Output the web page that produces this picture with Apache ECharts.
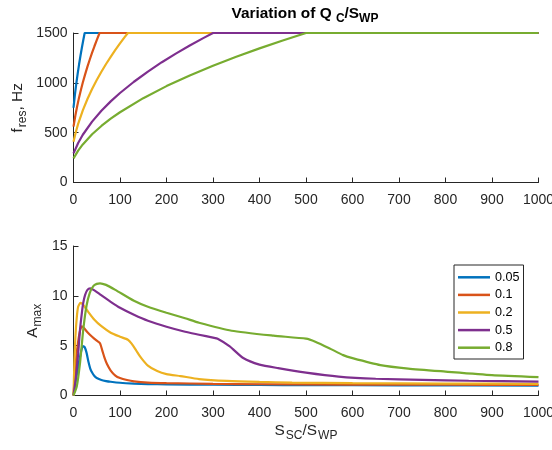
<!DOCTYPE html>
<html>
<head>
<meta charset="utf-8">
<script src="https://cdn.jsdelivr.net/npm/echarts@6/dist/echarts.min.js"></script>
<style>
html,body{margin:0;padding:0;background:#fff;}
#chart{width:552px;height:450px;}
</style>
</head>
<body>
<div id="chart"></div>
<script>
// ---- Data ----
var seriesNames = ['0.05', '0.1', '0.2', '0.5', '0.8'];
var colors = ['#0072BD', '#D95319', '#EDB120', '#7E2F8E', '#77AC30'];

// Top plot: f_res (Hz) vs S_SC/S_WP
var fX_005 = [0, 3, 6, 9, 12, 15, 18, 21, 24, 1000];
var fY_005 = [750, 879, 992, 1093, 1186, 1272, 1352, 1428, 1500, 1500];
var fX_01 = [0, 4, 8, 12, 16, 20, 25, 30, 35, 40, 45, 50, 56, 1000];
var fY_01 = [560, 672, 768, 854, 931, 1003, 1085, 1162, 1234, 1303, 1367, 1429, 1500, 1500];
var fX_02 = [0, 5, 10, 20, 30, 40, 50, 60, 70, 80, 90, 100, 110, 117, 1000];
var fY_02 = [410, 507, 588, 724, 838, 938, 1028, 1111, 1189, 1261, 1330, 1395, 1458, 1500, 1500];
var fX_05 = [0, 10, 20, 40, 60, 80, 100, 130, 160, 190, 220, 250, 280, 300, 1000];
var fY_05 = [292, 397, 479, 611, 720, 814, 898, 1011, 1113, 1207, 1293, 1374, 1451, 1500, 1500];
var fX_08 = [0, 10, 20, 40, 60, 80, 100, 150, 200, 250, 300, 350, 400, 450, 500, 1000];
var fY_08 = [242, 320, 382, 484, 567, 640, 705, 846, 967, 1074, 1172, 1262, 1346, 1425, 1500, 1500];

// Bottom plot: A_max vs S_SC/S_WP
var aX_005 = [0, 5, 10, 15, 20, 24, 28, 32, 36, 40, 45, 50, 60, 70, 80, 100, 130, 160, 200, 300, 400, 500, 700, 1000];
var aY_005 = [0, 1.5, 2.9, 4.1, 4.95, 4.85, 4.3, 3.4, 2.7, 2.3, 1.95, 1.75, 1.55, 1.45, 1.38, 1.28, 1.2, 1.15, 1.12, 1.08, 1.06, 1.04, 1.02, 1.0];
var aX_01 = [0, 3, 6, 10, 14, 18, 22, 30, 40, 50, 57, 62, 67, 72, 80, 90, 100, 115, 130, 160, 200, 300, 400, 600, 800, 1000];
var aY_01 = [0, 2.0, 3.8, 5.4, 6.5, 6.95, 6.8, 6.35, 5.9, 5.5, 5.25, 4.5, 3.75, 3.15, 2.5, 2.0, 1.75, 1.55, 1.42, 1.3, 1.24, 1.17, 1.13, 1.1, 1.08, 1.07];
var aX_02 = [0, 2, 4, 7, 10, 15, 20, 30, 45, 60, 80, 100, 117, 125, 135, 145, 160, 180, 200, 230, 270, 330, 400, 470, 600, 800, 1000];
var aY_02 = [0, 3.5, 5.8, 7.8, 8.9, 9.3, 9.15, 8.5, 7.6, 6.95, 6.3, 5.9, 5.6, 5.2, 4.5, 3.8, 3.0, 2.45, 2.15, 1.95, 1.65, 1.46, 1.36, 1.3, 1.24, 1.2, 1.17];
var aX_05 = [0, 5, 10, 14, 18, 21, 25, 30, 36, 45, 57, 80, 100, 130, 160, 200, 240, 270, 300, 310, 336, 365, 400, 440, 500, 570, 650, 750, 850, 1000];
var aY_05 = [0, 1.8, 4.2, 6.6, 8.3, 9.3, 10.1, 10.6, 10.75, 10.55, 10.15, 9.4, 8.8, 8.1, 7.5, 6.9, 6.4, 6.1, 5.8, 5.7, 4.93, 3.76, 3.1, 2.75, 2.3, 1.9, 1.68, 1.57, 1.48, 1.4];
var aX_08 = [0, 7, 14, 21, 28, 35, 43, 50, 57, 70, 90, 130, 160, 200, 240, 270, 340, 430, 500, 520, 550, 580, 600, 660, 720, 800, 900, 1000];
var aY_08 = [0, 0.9, 3.25, 6.6, 9.0, 10.3, 11.0, 11.2, 11.26, 11.1, 10.6, 9.5, 8.9, 8.3, 7.75, 7.3, 6.5, 6.0, 5.7, 5.4, 4.75, 4.05, 3.75, 3.05, 2.7, 2.4, 2.05, 1.85];

var xTicks = [0, 100, 200, 300, 400, 500, 600, 700, 800, 900, 1000];
var fTicks = [0, 500, 1000, 1500];
var aTicks = [0, 5, 10, 15];

// ---- Build chart ----
function pairs(xs, ys) { return xs.map(function (x, i) { return [x, ys[i]]; }); }
var topX = [fX_005, fX_01, fX_02, fX_05, fX_08];
var topY = [fY_005, fY_01, fY_02, fY_05, fY_08];
var botX = [aX_005, aX_01, aX_02, aX_05, aX_08];
var botY = [aY_005, aY_01, aY_02, aY_05, aY_08];

var TXT = '#262626';
var FONT = 'Liberation Sans, Arial, Helvetica, sans-serif';
function plain(v) { return String(v); }

function xAxisCfg(gi, withName) {
  var c = {
    type: 'value', gridIndex: gi, min: xTicks[0], max: xTicks[xTicks.length - 1],
    interval: xTicks[1] - xTicks[0],
    axisLine: { lineStyle: { color: TXT, width: 1 } },
    axisTick: { inside: true, length: 5, lineStyle: { color: TXT } },
    axisLabel: { color: TXT, fontSize: 14, fontFamily: FONT, margin: 11, showMaxLabel: true, formatter: plain, hideOverlap: false },
    splitLine: { show: false }
  };
  if (withName) {
    c.name = '{m|S}{s|SC}{m|/S}{s|WP}';
    c.nameLocation = 'middle';
    c.nameGap = 24;
    c.nameTextStyle = {
      color: TXT, fontFamily: FONT,
      rich: {
        m: { fontSize: 15.4, color: TXT, fontFamily: FONT },
        s: { fontSize: 12, color: TXT, fontFamily: FONT, padding: [10, 0, 0, 1] }
      }
    };
  }
  return c;
}
function yAxisCfg(gi, ticks, nameMain, nameSub, nameTail, gap) {
  return {
    type: 'value', gridIndex: gi, min: ticks[0], max: ticks[ticks.length - 1],
    interval: ticks[1] - ticks[0],
    axisLine: { show: true, lineStyle: { color: TXT, width: 1 } },
    axisTick: { show: true, inside: true, length: 5, lineStyle: { color: TXT } },
    axisLabel: { color: TXT, fontSize: 14, fontFamily: FONT, margin: 6, formatter: plain },
    splitLine: { show: false },
    name: '{m|' + nameMain + '}{s|' + nameSub + '}' + (nameTail ? '{m|' + nameTail + '}' : ''),
    nameLocation: 'middle',
    nameGap: gap,
    nameMoveOverlap: false,
    nameTextStyle: {
      color: TXT, fontFamily: FONT,
      rich: {
        m: { fontSize: 15.4, color: TXT, fontFamily: FONT },
        s: { fontSize: 12, color: TXT, fontFamily: FONT, padding: [10, 0, 0, 1] }
      }
    }
  };
}

var series = [];
for (var i = 0; i < 5; i++) {
  series.push({
    name: seriesNames[i], type: 'line', xAxisIndex: 0, yAxisIndex: 0,
    data: pairs(topX[i], topY[i]), showSymbol: false, symbol: 'none',
    lineStyle: { color: colors[i], width: 2.2 }, itemStyle: { color: colors[i] },
    animation: false, silent: true
  });
}
for (var j = 0; j < 5; j++) {
  series.push({
    name: seriesNames[j], type: 'line', xAxisIndex: 1, yAxisIndex: 1,
    data: pairs(botX[j], botY[j]), showSymbol: false, symbol: 'none',
    smooth: 0.2,
    lineStyle: { color: colors[j], width: 2.2 }, itemStyle: { color: colors[j] },
    animation: false, silent: true
  });
}

var chart = echarts.init(document.getElementById('chart'), null, { renderer: 'canvas' });
chart.setOption({
  backgroundColor: '#ffffff',
  animation: false,
  textStyle: { fontFamily: FONT },
  grid: [
    { left: 73.5, right: 13.5, top: 33, height: 149.5, containLabel: false, outerBoundsMode: 'none' },
    { left: 73.5, right: 13.5, top: 246, height: 149.5, containLabel: false, outerBoundsMode: 'none' }
  ],
  xAxis: [xAxisCfg(0, false), xAxisCfg(1, true)],
  yAxis: [
    yAxisCfg(0, fTicks, 'f', 'res', ', Hz', 45),
    yAxisCfg(1, aTicks, 'A', 'max', '', 30)
  ],
  legend: {
    data: seriesNames,
    orient: 'vertical',
    left: 454, top: 265,
    icon: 'rect',
    itemWidth: 32, itemHeight: 2.5, itemGap: 0,
    padding: [3.5, 4, 2.5, 4],
    backgroundColor: '#ffffff',
    borderColor: TXT, borderWidth: 1,
    textStyle: { color: '#000', fontSize: 12.6, lineHeight: 17.6, fontFamily: FONT },
    selectedMode: false
  },
  graphic: [{
    type: 'text', x: 305, y: 14,
    style: {
      text: '{b|Variation of Q }{bs|C}{b|/S}{bs|WP}',
      align: 'center', verticalAlign: 'middle',
      rich: {
        b: { fontSize: 15.4, fontWeight: 'bold', fill: '#000', fontFamily: FONT },
        bs: { fontSize: 12, fontWeight: 'bold', fill: '#000', fontFamily: FONT, padding: [10, 0, 0, 0] }
      }
    }
  }],
  series: series
});
</script>
</body>
</html>
